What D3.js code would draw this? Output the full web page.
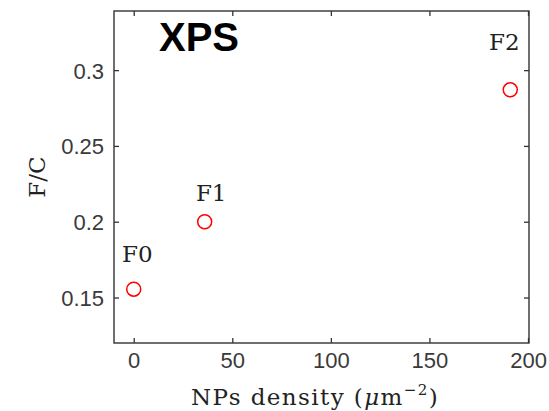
<!DOCTYPE html>
<html>
<head>
<meta charset="utf-8">
<script src="https://cdn.jsdelivr.net/npm/d3@7"></script>
<style>
  body { margin: 0; background: #fff; }
  .tick text { font-family: "Liberation Sans", Arial, sans-serif; font-size: 22px; fill: #3a3a3a; }
  .tick line { stroke: #333; stroke-width: 1.3; }
  .serif { font-family: "DejaVu Serif", serif; fill: #222; }
</style>
</head>
<body>
<div id="chart"></div>
<script>
// samples: NPs density vs F/C ratio
var names = ['F0', 'F1', 'F2'];
var density = [0, 36, 191];
var ratio = [0.1555, 0.2, 0.287];
// where each name is written, in data units (x centre, y baseline)
var labelX = [1.8, 39.3, 188];
var labelY = [0.1737, 0.2136, 0.3135];

var xTicks = [0, 50, 100, 150, 200];
var yTicks = [0.15, 0.2, 0.25, 0.3];

var width = 549, height = 411;
var box = {left: 114, right: 529, top: 11, bottom: 343};

var svg = d3.select('#chart')
    .append('svg')
    .attr('width', width)
    .attr('height', height);

var x = d3.scaleLinear()
    .domain([-10, 200.5])
    .range([box.left, box.right]);

var y = d3.scaleLinear()
    .domain([0.12, 0.339])
    .range([box.bottom, box.top]);

// ticks point inward on all four sides
var bottom = svg.append('g')
    .attr('transform', 'translate(0,' + box.bottom + ')')
    .call(d3.axisBottom(x).tickValues(xTicks).tickSize(-5).tickFormat(function(d) { return d }));
bottom.selectAll('.tick text').attr('y', 25).attr('dy', 0);

var left = svg.append('g')
    .attr('transform', 'translate(' + box.left + ',0)')
    .call(d3.axisLeft(y).tickValues(yTicks).tickSize(-5).tickFormat(function(d) { return d }));
left.selectAll('.tick text').attr('x', -10).attr('dy', '0.36em');

svg.append('g')
    .attr('transform', 'translate(0,' + box.top + ')')
    .call(d3.axisTop(x).tickValues(xTicks).tickSize(-5).tickFormat(''));

svg.append('g')
    .attr('transform', 'translate(' + box.right + ',0)')
    .call(d3.axisRight(y).tickValues(yTicks).tickSize(-5).tickFormat(''));

svg.selectAll('.domain').remove();

svg.append('rect')
    .attr('x', box.left)
    .attr('y', box.top)
    .attr('width', box.right - box.left)
    .attr('height', box.bottom - box.top)
    .attr('fill', 'none')
    .attr('stroke', '#333')
    .attr('stroke-width', 1.4);

svg.append('text')
    .attr('x', 159)
    .attr('y', 51)
    .attr('font-family', '"Liberation Sans", Arial, sans-serif')
    .attr('font-weight', 'bold')
    .attr('font-size', 40)
    .text('XPS');

svg.selectAll('.pt')
    .data(names)
    .enter()
    .append('circle')
    .attr('class', 'pt')
    .attr('cx', function(d, i) { return x(density[i]) })
    .attr('cy', function(d, i) { return y(ratio[i]) })
    .attr('r', 7)
    .attr('fill', 'none')
    .attr('stroke', '#f00')
    .attr('stroke-width', 1.5);

svg.selectAll('.name')
    .data(names)
    .enter()
    .append('text')
    .attr('class', 'name serif')
    .attr('x', function(d, i) { return x(labelX[i]) })
    .attr('y', function(d, i) { return y(labelY[i]) })
    .attr('text-anchor', 'middle')
    .attr('font-size', 23)
    .text(function(d) { return d });

var xl = svg.append('text')
    .attr('class', 'serif')
    .attr('x', 315)
    .attr('y', 405)
    .attr('text-anchor', 'middle')
    .attr('font-size', 23)
    .attr('letter-spacing', 1.4);
xl.append('tspan').text('NPs density (');
xl.append('tspan').attr('font-style', 'italic').text('μ');
xl.append('tspan').text('m');
xl.append('tspan').attr('font-size', 15).attr('dy', -10).text('−2');
xl.append('tspan').attr('dy', 10).text(')');

svg.append('text')
    .attr('class', 'serif')
    .attr('transform', 'translate(45,177) rotate(-90)')
    .attr('text-anchor', 'middle')
    .attr('font-size', 23)
    .text('F/C');
</script>
</body>
</html>
